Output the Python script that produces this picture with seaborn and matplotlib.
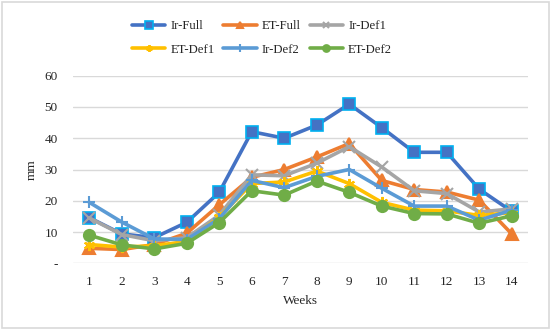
import matplotlib
matplotlib.use("Agg")
import matplotlib.pyplot as plt
from matplotlib.patches import Rectangle
import seaborn as sns
import pandas as pd

weeks = list(range(1, 15))
ir_full = [14.6, 9.4, 8.2, 13.1, 22.7, 42.1, 40.0, 44.2, 50.9, 43.4, 35.5, 35.5, 23.7, 16.6]
et_full = [4.8, 4.4, 6.0, 9.6, 18.7, 27.5, 30.0, 34.0, 38.3, 26.5, 23.6, 22.8, 20.2, 9.4]
ir_def1 = [14.5, 9.2, 7.2, 8.2, 15.4, 28.3, 28.0, 32.0, 37.3, 30.8, 23.2, 22.3, 16.4, 17.4]
et_def1 = [6.0, 5.2, 5.6, 7.0, 14.8, 25.5, 26.0, 29.5, 25.5, 19.5, 17.0, 16.8, 15.3, 16.2]
ir_def2 = [19.5, 13.2, 7.8, 7.6, 14.3, 26.5, 24.2, 27.8, 30.0, 24.0, 18.3, 18.3, 13.8, 17.0]
et_def2 = [9.0, 5.9, 4.6, 6.4, 13.0, 23.2, 21.8, 26.3, 22.7, 18.3, 15.9, 15.8, 12.8, 15.2]

series_names = ["Ir-Full", "ET-Full", "Ir-Def1", "ET-Def1", "Ir-Def2", "ET-Def2"]
series_vals = [ir_full, et_full, ir_def1, et_def1, ir_def2, et_def2]
colors = ["#4472C4", "#ED7D31", "#A5A5A5", "#FFC000", "#5B9BD5", "#70AD47"]
markers = ["s", "^", "x", (6, 2, 0), "+", "o"]
edgecolors = ["#00B0F0", "#ED7D31", "#A5A5A5", "#FFC000", "#5B9BD5", "#70AD47"]
msizes = [8.5, 8, 8, 8, 9, 8]

ytick_vals = [0, 10, 20, 30, 40, 50, 60]
ytick_labels = ["-", "10", "20", "30", "40", "50", "60"]

sns.set_theme(style="white")
plt.rcParams["font.family"] = ["Liberation Serif", "DejaVu Serif"]

fig = plt.figure(figsize=(5.5, 3.29), dpi=100)
ax = fig.add_axes([73 / 550, 1 - 263.3 / 329, (528 - 73) / 550, (263.3 - 75.7) / 329])

df = pd.DataFrame({"Week": weeks * len(series_names),
                   "mm": sum(series_vals, []),
                   "Series": sum([[n] * len(weeks) for n in series_names], [])})

handles = {}
for name, c, m, ec, ms in zip(series_names, colors, markers, edgecolors, msizes):
    sub = df[df["Series"] == name]
    sns.lineplot(data=sub, x="Week", y="mm", color=c, marker=m, markersize=ms,
                 markeredgecolor=ec, markerfacecolor=c,
                 markeredgewidth=1.5 if name != "Ir-Full" else 1.2,
                 linewidth=2.6, ax=ax, label=name, legend=False)
    handles[name] = ax.lines[-1]

ax.set_xlim(0.5, 14.5)
ax.set_ylim(0, 60)
ax.set_xticks(weeks)
ax.set_xticklabels([str(w) for w in weeks], fontsize=9.5)
ax.set_yticks(ytick_vals)
ax.set_yticklabels(ytick_labels, fontsize=9.5)
ax.tick_params(axis="x", length=0, pad=9)
ax.tick_params(axis="y", length=0, pad=11)
ax.grid(axis="y", color="#d9d9d9", linewidth=1)
ax.set_axisbelow(True)
for s in ax.spines.values():
    s.set_visible(False)
ax.set_xlabel("Weeks", fontsize=9.5, labelpad=5)
ax.set_ylabel("mm", fontsize=9.5, labelpad=5)

order = ["Ir-Full", "ET-Def1", "ET-Full", "Ir-Def2", "Ir-Def1", "ET-Def2"]
leg = fig.legend([handles[n] for n in order], order, loc="center",
                 bbox_to_anchor=(262 / 550, 1 - 38 / 329), ncol=3, frameon=False,
                 fontsize=9.2, handlelength=2.6, handletextpad=0.4, columnspacing=0.7,
                 labelspacing=0.9, markerscale=0.6)

fig.patches.append(Rectangle((1.5 / 550, 1.5 / 329), 547 / 550, 326 / 329,
                             transform=fig.transFigure, fill=False,
                             edgecolor="#d9d9d9", linewidth=1.2))

fig.savefig("out.png", dpi=100)
